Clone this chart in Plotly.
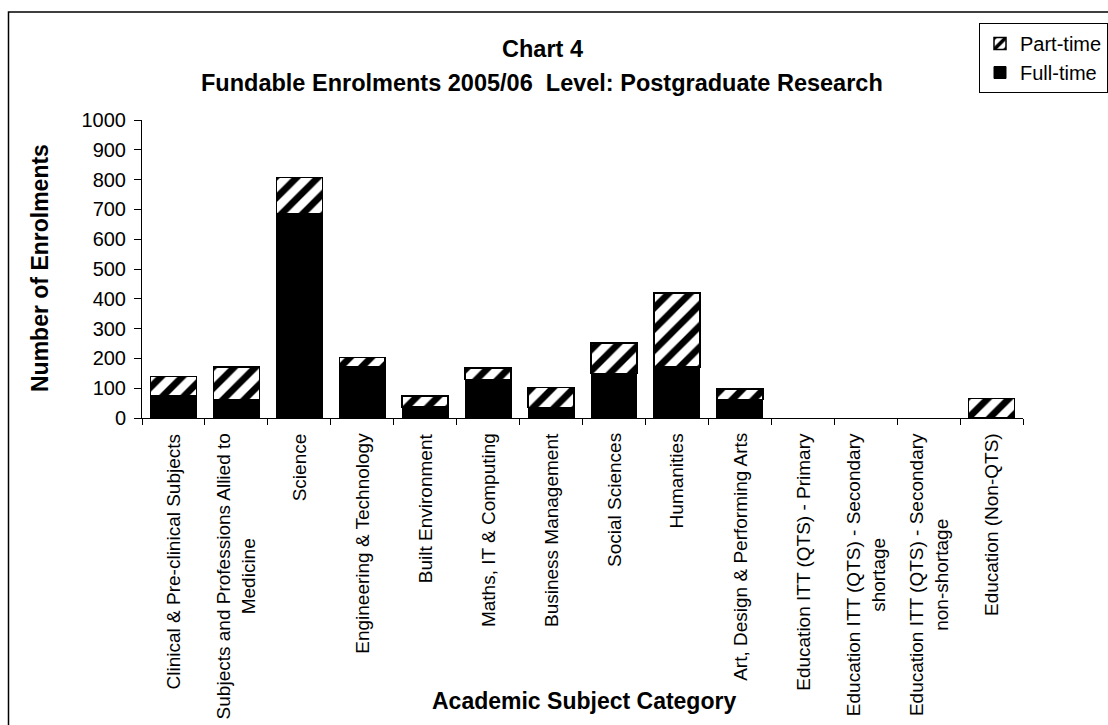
import plotly.graph_objects as go

categories = [
    "Clinical & Pre-clinical Subjects",
    "Subjects and Professions Allied to<br>Medicine",
    "Science",
    "Engineering & Technology",
    "Built Environment",
    "Maths, IT & Computing",
    "Business Management",
    "Social Sciences",
    "Humanities",
    "Art, Design & Performing Arts",
    "Education ITT (QTS) - Primary",
    "Education ITT (QTS) - Secondary<br>shortage",
    "Education ITT (QTS) - Secondary<br>non-shortage",
    "Education (Non-QTS)",
]
full_time = [75, 61, 684, 171, 37, 130, 36, 150, 171, 62, 0, 0, 0, 0]
part_time = [64, 110, 123, 32, 37, 37, 66, 101, 248, 35, 0, 0, 0, 65]
y_ticks = [0, 100, 200, 300, 400, 500, 600, 700, 800, 900, 1000]

W, H = 1108, 725
PL, PR, PT, PB = 142, 1023, 120, 418  # plot area in page pixels
FONT = "Arial, Liberation Sans, sans-serif"


def px_x(p):
    return (p - PL) / (PR - PL)


def px_y(p):
    return (PB - p) / (PB - PT)


def outline(vals, w):
    return [w if v > 0 else 0 for v in vals]


fig = go.Figure()
fig.add_trace(go.Bar(
    name="Full-time", x=categories, y=full_time,
    marker=dict(color="black", line=dict(color="black", width=outline(full_time, 1))),
))
fig.add_trace(go.Bar(
    name="Part-time", x=categories, y=part_time,
    marker=dict(color="white", line=dict(color="black", width=outline(part_time, 1.5)),
                pattern=dict(shape="/", fgcolor="black", bgcolor="white",
                             fgopacity=1, size=15, solidity=0.45)),
))

annotations = []
for c in categories:
    annotations.append(dict(
        x=c, xref="x", y=px_y(431), yref="paper", text=c, textangle=-90,
        showarrow=False, xanchor="center", yanchor="top", align="center",
        font=dict(family=FONT, size=19, color="black"),
    ))

annotations += [
    dict(text="<b>Chart 4</b>", x=px_x(542), y=px_y(49), xref="paper", yref="paper",
         showarrow=False, xanchor="center", yanchor="middle",
         font=dict(family=FONT, size=23.5, color="black")),
    dict(text="<b>Fundable Enrolments 2005/06  Level: Postgraduate Research</b>",
         x=px_x(542), y=px_y(83), xref="paper", yref="paper",
         showarrow=False, xanchor="center", yanchor="middle",
         font=dict(family=FONT, size=23.5, color="black")),
    dict(text="<b>Number of Enrolments</b>", x=px_x(40), y=px_y(268),
         xref="paper", yref="paper", textangle=-90, showarrow=False,
         xanchor="center", yanchor="middle",
         font=dict(family=FONT, size=23, color="black")),
    dict(text="<b>Academic Subject Category</b>", x=px_x(584), y=px_y(701),
         xref="paper", yref="paper", showarrow=False,
         xanchor="center", yanchor="middle",
         font=dict(family=FONT, size=23, color="black")),
]

fig.update_layout(
    width=W, height=H, autosize=False,
    margin=dict(l=PL, r=W - PR, t=PT, b=H - PB, pad=0, autoexpand=False),
    paper_bgcolor="white", plot_bgcolor="white",
    barmode="stack", bargap=0.27,
    font=dict(family=FONT, size=20, color="black"),
    showlegend=True,
    legend=dict(
        x=px_x(979), y=px_y(23), xanchor="left", yanchor="top",
        traceorder="reversed", bordercolor="black", borderwidth=1,
        bgcolor="white", font=dict(family=FONT, size=20, color="black"),
        itemwidth=30,
    ),
    xaxis=dict(
        type="category", showticklabels=False, showline=True, linecolor="black",
        linewidth=1, ticks="outside", ticklen=6, tickcolor="black",
        tickson="boundaries", showgrid=False, zeroline=False,
    ),
    yaxis=dict(
        range=[0, 1000], tickvals=y_ticks, showline=True, linecolor="black",
        linewidth=1, ticks="outside", ticklen=7, tickcolor="black",
        ticklabelstandoff=4,
        showgrid=False, zeroline=False,
        tickfont=dict(family=FONT, size=20, color="black"),
    ),
    annotations=annotations,
    shapes=[dict(type="rect", xref="paper", yref="paper",
                 x0=px_x(8.5), x1=px_x(1130), y0=px_y(740), y1=px_y(12),
                 line=dict(color="black", width=1.5), fillcolor="rgba(0,0,0,0)",
                 layer="below")],
)

fig.write_html(
    "out.html",
    config={"displayModeBar": False},
    post_script="document.body.style.margin='0';document.body.style.overflow='hidden';",
)
